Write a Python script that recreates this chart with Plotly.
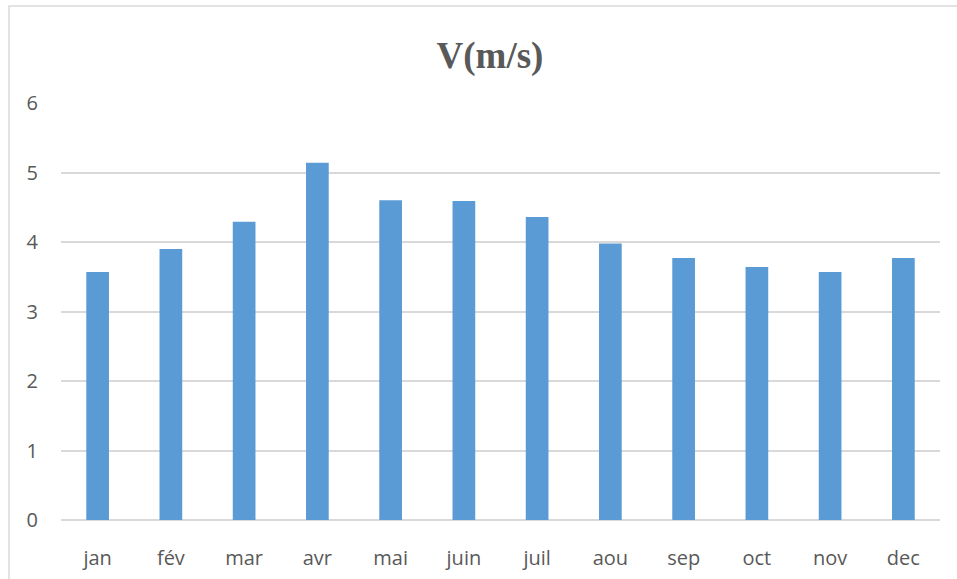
import plotly.graph_objects as go

months = ["jan", "fév", "mar", "avr", "mai", "juin", "juil", "aou", "sep", "oct", "nov", "dec"]
speed = [3.57, 3.90, 4.29, 5.14, 4.60, 4.59, 4.36, 3.98, 3.77, 3.64, 3.57, 3.77]
y_ticks = [0, 1, 2, 3, 4, 5, 6]

W, H = 957, 579
L, R, T, B = 61, 17, 103, 59

fig = go.Figure(go.Bar(x=months, y=speed, marker=dict(color="#5B9BD5", line=dict(width=0)),
                       hoverinfo="x+y"))

pw = W - L - R
ph = H - T - B
fig.update_layout(
    width=W, height=H,
    margin=dict(l=L, r=R, t=T, b=B, pad=0, autoexpand=False),
    paper_bgcolor="white", plot_bgcolor="white",
    bargap=0.69,
    showlegend=False,
    title=dict(text="V(m/s)", x=490 / W, xanchor="center", y=1 - 55 / H, yanchor="middle",
               xref="container", yref="container", automargin=False,
               font=dict(family="Liberation Serif", size=37, color="#595959", weight="bold")),
    xaxis=dict(showgrid=False, showline=False, zeroline=False, ticks="", automargin=False,
               tickfont=dict(family="Open Sans", size=20, color="#595959"),
               ticklabelstandoff=24),
    yaxis=dict(range=[0, 6], tickvals=y_ticks, showgrid=True, gridcolor="#d9d9d9", gridwidth=1.5,
               zeroline=True, zerolinecolor="#d9d9d9", zerolinewidth=1.5,
               showline=False, ticks="", automargin=False,
               tickfont=dict(family="Open Sans", size=20, color="#595959"),
               ticklabelstandoff=22),
    shapes=[dict(type="rect", xref="paper", yref="paper",
                 x0=(9 - L) / pw, x1=1.2, y0=-0.3, y1=(H - B - 6) / ph,
                 line=dict(color="#d9d9d9", width=1.5), fillcolor="rgba(0,0,0,0)", layer="below")],
)

fig.write_html("out.html", config={"displayModeBar": False},
               post_script="document.body.style.margin='0';document.body.style.overflow='hidden';")
